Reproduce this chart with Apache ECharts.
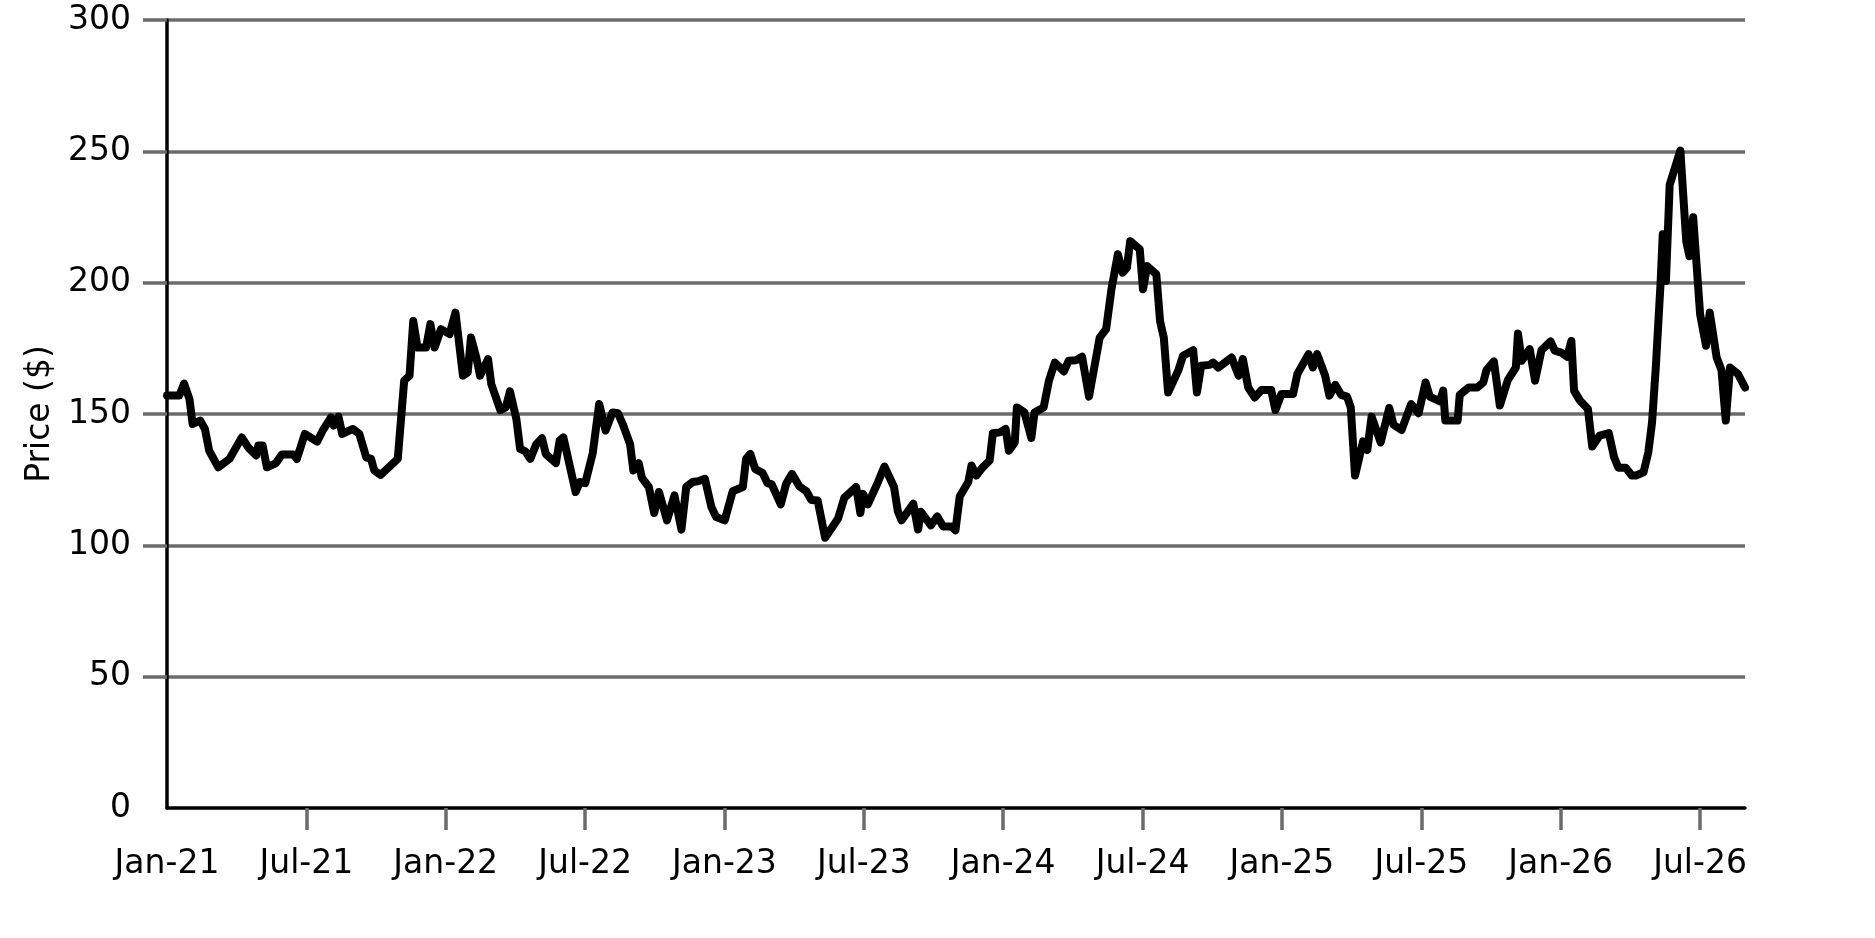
<!DOCTYPE html>
<html>
<head>
<meta charset="utf-8">
<script src="https://cdn.jsdelivr.net/npm/echarts@6/dist/echarts.min.js"></script>
<style>
html,body{margin:0;padding:0;background:#fff;}
#chart{width:1875px;height:938px;}
</style>
</head>
<body>
<div id="chart"></div>
<script>
// weeks since 1 Jan 2021 (x position of each visible vertex)
const weeks = [
  0, 2.3, 3.2, 4.2, 4.8, 6.2, 7.1, 7.9, 9.6, 11.7, 14.0, 15.2, 16.7, 17.1, 17.9, 18.7, 20.4, 21.5, 23.7, 24.3,
  25.8, 28.1, 29.2, 30.7, 31.2, 32.1, 32.8, 34.8, 36.0, 37.3, 38.2, 38.8, 40.0, 43.2, 44.4, 45.4, 46.1, 46.9, 48.5, 49.3,
  50.1, 51.3, 52.9, 54.0, 55.4, 56.3, 56.9, 57.9, 58.6, 60.1, 60.7, 62.4, 63.4, 64.2, 65.4, 66.1, 67.1, 68.0, 69.1, 70.2,
  70.9, 72.8, 73.5, 74.2, 76.5, 77.3, 78.3, 79.7, 80.9, 82.1, 83.4, 84.4, 85.3, 86.7, 87.3, 88.3, 88.9, 90.2, 91.2, 92.1,
  93.6, 95.0, 96.3, 97.2, 98.4, 99.4, 100.7, 101.9, 102.8, 104.4, 105.9, 107.8, 108.4, 109.2, 110.1, 111.5, 112.4, 113.2, 114.9, 115.9,
  117.0, 118.4, 119.7, 120.6, 121.8, 123.2, 125.6, 126.8, 129.0, 129.8, 130.3, 131.2, 133.1, 134.3, 136.1, 136.8, 137.5, 139.7, 140.6, 141.1,
  143.0, 144.2, 145.3, 146.8, 147.6, 148.4, 150.0, 150.6, 151.5, 152.7, 154.0, 154.6, 155.9, 157.0, 157.6, 158.7, 159.1, 160.5, 161.8, 162.4,
  164.1, 165.1, 166.2, 167.9, 168.8, 170.2, 171.3, 172.6, 173.7, 174.6, 175.8, 176.8, 178.0, 178.9, 179.7, 180.3, 182.1, 182.7, 183.5, 185.2,
  185.9, 186.6, 187.4, 189.3, 190.2, 192.1, 192.8, 193.6, 195.2, 195.8, 196.8, 199.3, 200.6, 201.4, 202.4, 203.6, 204.9, 206.7, 207.5, 208.6,
  210.8, 211.6, 213.7, 214.5, 215.3, 216.8, 217.6, 218.7, 219.8, 220.9, 221.6, 222.4, 223.9, 224.7, 225.5, 227.2, 228.8, 229.6, 231.1, 232.9,
  234.3, 235.6, 236.4, 238.3, 238.9, 239.3, 241.6, 242.0, 243.7, 245.3, 246.4, 247.0, 248.4, 249.5, 251.0, 252.5, 252.9, 253.6, 255.1, 256.1,
  257.3, 259.0, 259.8, 261.0, 262.1, 262.9, 263.4, 264.5, 266.0, 266.8, 268.2, 269.9, 270.9, 271.7, 273.1, 274.2, 275.0, 276.4, 277.3, 278.0,
  278.7, 279.6, 280.0, 280.6, 281.3, 283.3, 284.4, 285.0, 285.7, 287.0, 288.1, 288.8, 290.1, 291.0, 291.8, 292.6, 294.1, 295.4
];
const prices = [
  157, 157, 161.6, 155.7, 146.2, 147.5, 144.3, 136, 129.7, 132.9, 141.1, 137.3, 134.2, 138, 138, 129.7, 131.3, 134.6, 134.6, 132.9,
  142.4, 139.5, 143.9, 148.7, 145.6, 149, 142.4, 144.3, 142.4, 133.5, 132.9, 128.5, 126.8, 132.9, 162.7, 164.6, 185.4, 175.3, 175.3, 184.2,
  175.3, 182.3, 180.4, 188.6, 164.6, 165.8, 179.1, 171.5, 164.6, 170.9, 161.4, 151.5, 152.5, 158.6, 148.1, 136.7, 135.8, 132.9, 138.4, 140.8,
  134.8, 131.3, 139.9, 141.1, 120.3, 124.1, 123.7, 135.1, 153.8, 143.7, 150.6, 150.3, 146.2, 138.4, 128.5, 131.3, 125.7, 122.2, 112.3, 120.3,
  109.5, 119, 106, 122.2, 124.1, 124.4, 125.3, 114.6, 110.8, 109.5, 120.6, 122.2, 132.9, 134.8, 129.1, 127.5, 123.7, 123.2, 115.6, 123.4,
  127.2, 122.4, 120.6, 117.3, 117.1, 102.9, 110.1, 118.1, 122.2, 112.3, 119.6, 115.6, 124.1, 130, 122.2, 113.1, 109.5, 115.8, 106, 112.8,
  107.6, 111, 107.2, 107.2, 105.7, 118.6, 124.1, 130.4, 126.6, 129.7, 132.3, 142.7, 143, 144.3, 136, 139.2, 152.5, 150.6, 140.9, 150.6,
  152.5, 162.7, 169.6, 166.2, 170.3, 170.5, 171.8, 156.6, 169, 179.1, 182.3, 197.5, 210.8, 203.8, 205.7, 215.8, 212.7, 197.5, 206.3, 203.2,
  185.4, 179.1, 158.2, 166.5, 172.2, 174.3, 158.2, 168.4, 168.7, 169.6, 167.7, 171.5, 164.6, 170.9, 160.1, 156.3, 159.1, 159.1, 151.5, 157.6,
  157.6, 165.2, 172.8, 167.7, 172.8, 164.6, 157, 161.1, 157.3, 156.6, 152.5, 126.6, 139.6, 136.3, 149, 139.2, 152.3, 145.9, 143.9, 153.8,
  150.3, 162, 156.6, 154.8, 158.9, 147.5, 147.5, 157.3, 160.1, 160.1, 162, 166.7, 170, 153.2, 162.9, 167.7, 180.6, 170.3, 174.7, 162.7,
  174.3, 177.6, 174.1, 173.4, 171.8, 177.8, 158.9, 155.1, 151.9, 137.6, 141.8, 142.7, 133.5, 129.5, 129.5, 126.6, 126.6, 127.8, 135.4, 146.8,
  167.7, 200, 218.4, 200.6, 237.3, 250.3, 215.8, 210.1, 224.9, 188, 176, 188.6, 171.5, 166.7, 147.5, 167.7, 165.2, 160.1
];
const xTickLabels = ['Jan-21','Jul-21','Jan-22','Jul-22','Jan-23','Jul-23','Jan-24','Jul-24','Jan-25','Jul-25','Jan-26','Jul-26'];
const yTickValues = [0, 50, 100, 150, 200, 250, 300];

const toYears = w => w * 7 / 365.25;
const seriesData = weeks.map((w, i) => [toYears(w), prices[i]]);
const xLabelPos = xTickLabels.map((_, i) => i * 0.5);
const xMax = toYears(weeks[weeks.length - 1]);

const FONT = 'DejaVu Sans';
const GRID_GRAY = '#6b6b6b';

const chart = echarts.init(document.getElementById('chart'), null, {renderer: 'canvas'});
chart.setOption({
  animation: false,
  backgroundColor: '#ffffff',
  grid: {left: 167, right: 130, top: 20, bottom: 130},
  xAxis: {
    type: 'value',
    min: 0,
    max: xMax,
    axisLine: {show: true, onZero: false, lineStyle: {color: '#000', width: 3.5}},
    axisTick: {show: true, customValues: xLabelPos.slice(1), length: 22, lineStyle: {color: GRID_GRAY, width: 3.5}},
    axisLabel: {
      customValues: xLabelPos,
      formatter: v => xTickLabels[Math.round(v * 2)],
      fontFamily: FONT, fontSize: 33, color: '#000', margin: 40
    },
    splitLine: {show: false}
  },
  yAxis: {
    type: 'value',
    min: 0,
    max: 300,
    interval: 50,
    name: 'Price ($)',
    nameLocation: 'middle',
    nameGap: 98,
    nameTextStyle: {fontFamily: FONT, fontSize: 33, color: '#000'},
    axisLine: {show: true, lineStyle: {color: '#000', width: 3.5}},
    axisTick: {show: true, customValues: yTickValues.slice(1), length: 24, lineStyle: {color: GRID_GRAY, width: 3.5}},
    axisLabel: {
      customValues: yTickValues,
      fontFamily: FONT, fontSize: 33, color: '#000', margin: 36,
      padding: [7, 0, 0, 0]
    },
    splitLine: {show: true, lineStyle: {color: GRID_GRAY, width: 3.5}}
  },
  series: [{
    type: 'line',
    data: seriesData,
    showSymbol: false,
    symbol: 'none',
    lineStyle: {color: '#000', width: 8, join: 'round', cap: 'round'},
    z: 5
  }]
});
</script>
</body>
</html>
